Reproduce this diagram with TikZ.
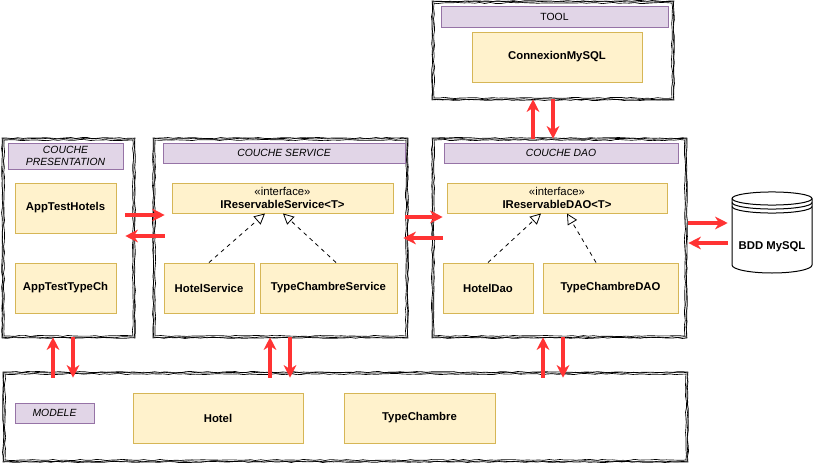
\documentclass[tikz,border=0pt]{standalone}
\usepackage{fontspec}
\setmainfont{Liberation Sans}
\usetikzlibrary{arrows.meta,decorations.pathmorphing}
\definecolor{yfill}{HTML}{FFF2CC}
\definecolor{ydraw}{HTML}{D6B656}
\definecolor{pfill}{HTML}{E1D5E7}
\definecolor{pdraw}{HTML}{9673A6}
\definecolor{arr}{HTML}{FF3333}
\newcommand\sketchframe[1]{%
 \draw[sk] (#1.north west) rectangle (#1.south east);
 \draw[sk] ([shift={(1pt,-1pt)}]#1.north west) rectangle ([shift={(-1pt,1pt)}]#1.south east);
 \draw[sk] ([shift={(-0.5pt,0.5pt)}]#1.north west) rectangle ([shift={(0.5pt,-0.5pt)}]#1.south east);
}
\begin{document}
\begin{tikzpicture}[x=0.75pt,y=-0.75pt,
 wh/.style 2 args={minimum width=#1*0.75pt, minimum height=#2*0.75pt},
 cls/.style={draw=ydraw, fill=yfill, line width=0.75pt, inner sep=0pt, font=\bfseries\fontsize{8.5}{10}\selectfont, align=center},
 ifc/.style={cls, font=\fontsize{8.5}{9.5}\selectfont},
 lbl/.style={draw=pdraw, fill=pfill, line width=0.75pt, inner sep=0pt, font=\itshape\fontsize{7.8}{9}\selectfont, align=center},
 cont/.style={inner sep=0pt, fill=white},
 sk/.style={line width=0.5pt, decorate, decoration={random steps, segment length=4pt, amplitude=0.45pt}},
 flow/.style={draw=arr, line width=2.3pt, -{Stealth[length=9.5pt,width=9.5pt,inset=3pt]}},
 impl/.style={dashed, line width=0.6pt, -{Triangle[fill=white,length=8pt,width=8pt]}}
]
\pgfmathsetseed{7}
\useasboundingbox (0,0) rectangle (813,464);

% containers
\node[cont, wh={131}{198}] (P) at (68.5,238) {};
\node[cont, wh={253}{198}] (S) at (280.5,238) {};
\node[cont, wh={253}{198}] (D) at (559.5,238) {};
\node[cont, wh={240}{97}] (T) at (553,50.5) {};
\node[cont, wh={683}{88}] (M) at (345.5,417) {};
\sketchframe{P}
\sketchframe{S}
\sketchframe{D}
\sketchframe{T}
\sketchframe{M}

% labels
\node[lbl, wh={115}{26}] (PL) at (65.5,156) {COUCHE\\PRESENTATION};
\node[lbl, wh={242}{20}] (SL) at (284,153) {COUCHE SERVICE};
\node[lbl, wh={234}{20}] (DL) at (561,153) {COUCHE DAO};
\node[lbl, wh={227}{21}, font=\fontsize{7.8}{9}\selectfont] (TL) at (554.5,16.5) {TOOL};
\node[lbl, wh={79}{20}] (ML) at (54.5,413) {MODELE};

% classes
\node[cls, wh={101}{50}] (ATH) at (65.5,208) {AppTestHotels};
\node[cls, wh={101}{50}] (ATT) at (65.5,288) {AppTestTypeCh};
\node[ifc, wh={221}{30}] (IS) at (282.5,198) {«interface»\\\textbf{IReservableService<T>}};
\node[cls, wh={90}{50}] (HS) at (209,288) {HotelService};
\node[cls, wh={137}{50}] (TCS) at (328.5,288) {TypeChambreService};
\node[ifc, wh={220}{30}] (ID) at (557,198) {«interface»\\\textbf{IReservableDAO<T>}};
\node[cls, wh={90}{50}] (HD) at (488,288) {HotelDao};
\node[cls, wh={135}{50}] (TCD) at (610.5,288) {TypeChambreDAO};
\node[cls, wh={170}{50}] (CM) at (557,57) {ConnexionMySQL};
\node[cls, wh={170}{50}] (H) at (218,418) {Hotel};
\node[cls, wh={151}{50}] (TC) at (419.5,418) {TypeChambre};

% database
\node[inner sep=0pt, wh={80}{80}] (bdd) at (772,233) {};
\draw[line width=0.75pt, fill=white] (732,198.5) -- (732,265)
  arc[start angle=180,end angle=360,x radius=30pt,y radius=6pt] -- (812,198.5)
  arc[start angle=0,end angle=180,x radius=30pt,y radius=4.9pt] -- cycle;
\draw[line width=0.75pt] (732,198.5) arc[start angle=180,end angle=360,x radius=30pt,y radius=4.9pt];
\draw[line width=0.75pt] (732,202.5) arc[start angle=180,end angle=360,x radius=30pt,y radius=4.9pt];
\draw[line width=0.75pt] (732,206.5) arc[start angle=180,end angle=360,x radius=30pt,y radius=4.9pt];
\node[font=\bfseries\fontsize{8.5}{10}\selectfont, inner sep=0pt] (bddt) at (772,247) {BDD MySQL};

% implementation
\draw[impl] (HS.north) -- (IS.south -| 265,0);
\draw[impl] (TCS.north -| 336,0) -- (IS.south -| 283,0);
\draw[impl] (HD.north) -- (ID.south -| 541,0);
\draw[impl] (TCD.north -| 596,0) -- (ID.south -| 567,0);

% flows
\draw[flow, shorten <=-6.75pt, shorten >=-8.25pt] (P.east |- 0,215) -- (S.west |- 0,215);
\draw[flow, shorten <=-8.25pt, shorten >=-6.75pt] (S.west |- 0,236) -- (P.east |- 0,236);
\draw[flow, shorten <=-1.5pt, shorten >=-7.5pt] (S.east |- 0,217) -- (D.west |- 0,217);
\draw[flow, shorten <=-7.5pt, shorten >=-3pt] (D.west |- 0,238) -- (S.east |- 0,238);
\draw[flow, shorten <=1.5pt, shorten >=3pt] (D.east |- 0,223) -- (bdd.west |- 0,223);
\draw[flow, shorten <=3pt, shorten >=1.5pt] (bdd.west |- 0,243) -- (D.east |- 0,243);
\draw[flow] (D.north -| 533,0) -- (T.south -| 533,0);
\draw[flow] (T.south -| 553,0) -- (D.north -| 553,0);
\draw[flow, shorten <=-3.75pt] (M.north -| 53,0) -- (P.south -| 53,0);
\draw[flow, shorten >=-3.75pt] (P.south -| 73,0) -- (M.north -| 73,0);
\draw[flow, shorten <=-3.75pt] (M.north -| 270,0) -- (S.south -| 270,0);
\draw[flow, shorten >=-3.75pt] (S.south -| 290,0) -- (M.north -| 290,0);
\draw[flow, shorten <=-3.75pt] (M.north -| 543,0) -- (D.south -| 543,0);
\draw[flow, shorten >=-3.75pt] (D.south -| 563,0) -- (M.north -| 563,0);
\end{tikzpicture}
\end{document}
